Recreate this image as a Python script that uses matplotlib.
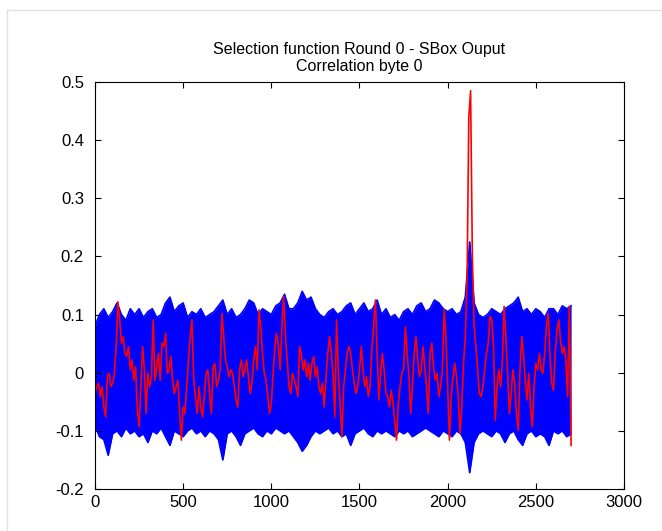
import numpy as np
import matplotlib
import matplotlib.pyplot as plt
from matplotlib.lines import Line2D
matplotlib.use('Agg')

plt.rcParams['font.family'] = ['Liberation Sans', 'DejaVu Sans']

# sample grid of the blue envelope (every 25 samples)
env_step = 25
# upper / lower edge of the blue band (all wrong-key traces)
blue_upper = [
    0.08, 0.10, 0.11, 0.095, 0.105, 0.12, 0.10, 0.09, 0.11, 0.10, 0.11, 0.095,
    0.105, 0.11, 0.095, 0.10, 0.12, 0.13, 0.105, 0.115, 0.12, 0.095, 0.105,
    0.10, 0.11, 0.095, 0.10, 0.105, 0.115, 0.125, 0.10, 0.11, 0.095, 0.10,
    0.11, 0.125, 0.12, 0.10, 0.11, 0.105, 0.10, 0.115, 0.12, 0.135, 0.11,
    0.11, 0.12, 0.14, 0.125, 0.13, 0.11, 0.10, 0.095, 0.105, 0.11, 0.10,
    0.105, 0.115, 0.12, 0.10, 0.11, 0.12, 0.105, 0.11, 0.125, 0.10, 0.11,
    0.095, 0.10, 0.09, 0.105, 0.11, 0.10, 0.115, 0.12, 0.105, 0.11, 0.125,
    0.12, 0.11, 0.105, 0.11, 0.10, 0.105, 0.13, 0.225, 0.12, 0.10, 0.095,
    0.10, 0.11, 0.105, 0.10, 0.11, 0.115, 0.12, 0.13, 0.105, 0.11, 0.10,
    0.11, 0.105, 0.095, 0.11, 0.11, 0.10, 0.115, 0.11, 0.115,
]
blue_lower = [
    -0.09, -0.11, -0.115, -0.142, -0.105, -0.10, -0.11, -0.095, -0.105, -0.10,
    -0.11, -0.105, -0.12, -0.10, -0.105, -0.095, -0.11, -0.125, -0.10, -0.105,
    -0.11, -0.10, -0.095,
    -0.105, -0.10, -0.11, -0.10, -0.105, -0.115, -0.15, -0.105, -0.10, -0.11,
    -0.125, -0.105, -0.10, -0.095, -0.105, -0.11, -0.10, -0.105, -0.095, -0.10,
    -0.105, -0.10,
    -0.11, -0.12, -0.135, -0.125, -0.11, -0.10, -0.105, -0.10, -0.095, -0.105,
    -0.10, -0.11, -0.105, -0.125, -0.105, -0.10, -0.095, -0.105, -0.11, -0.10,
    -0.105, -0.10,
    -0.105, -0.11, -0.10, -0.105, -0.10, -0.11, -0.105, -0.10, -0.095, -0.10,
    -0.105, -0.11, -0.10, -0.105, -0.11, -0.10, -0.105, -0.12, -0.172, -0.12,
    -0.105, -0.10,
    -0.105, -0.11, -0.10, -0.105, -0.12, -0.105, -0.10, -0.115, -0.125, -0.105,
    -0.10, -0.11, -0.105, -0.11, -0.125, -0.10, -0.105, -0.10, -0.11, -0.105,
]

# correct key trace (red), every 10 samples
red_step = 10
red_corr = [
    -0.036, -0.024, -0.018, -0.041, -0.024, -0.059, -0.076, -0.007, -0.001, -0.024,
    -0.018, -0.001, 0.045, 0.122, 0.091, 0.051, 0.062, 0.033, 0.028, 0.045,
    0.005, 0.022, -0.013, 0.010, -0.064, -0.093, -0.024, 0.045, 0.005, -0.070,
    -0.001, -0.024, -0.007, 0.091, -0.013, 0.010, 0.033, -0.013, 0.051, 0.045,
    0.068, -0.001, 0.005, 0.028, -0.013, -0.036, -0.024, -0.013, -0.070, -0.116,
    -0.059, -0.070, -0.024, 0.022, 0.062, 0.091,
    -0.013, -0.041, -0.070, -0.024, -0.059, -0.076, -0.041, -0.001, 0.005, -0.036,
    -0.070, 0.010, 0.016, -0.024, -0.013, 0.005, 0.102, 0.062, 0.022, 0.010,
    -0.007, 0.005, -0.001, -0.024, -0.047, -0.059, 0.005, 0.022, -0.007, 0.005,
    0.022, -0.007, -0.036, -0.018, 0.022, 0.045, 0.005, 0.108, 0.079, 0.033,
    -0.001, -0.013, -0.041, -0.070, -0.053, -0.001, 0.045, 0.068, 0.045, 0.005,
    0.079, 0.131, 0.062, 0.022, -0.024,
    -0.036, -0.001, -0.013, -0.024, -0.041, 0.045, 0.033, 0.005, 0.022, -0.007,
    0.016, -0.013, 0.016, 0.028, -0.007, 0.010, -0.024, -0.036, -0.018, -0.059,
    -0.007, 0.033, 0.062, 0.033, -0.001, -0.076, 0.091, -0.001, -0.053, -0.110,
    -0.024, 0.005, 0.033, 0.045, 0.033, 0.005, -0.018, -0.036, -0.024, 0.005,
    0.045, 0.005, -0.024, -0.007, -0.041, -0.024, 0.039, 0.079, 0.125, 0.033,
    -0.047, -0.001, 0.033, 0.005, -0.036,
    -0.041, -0.059, -0.030, -0.053, -0.082, -0.116, -0.053, -0.024, -0.001, 0.005,
    0.079, 0.033, -0.001, -0.070, -0.024, 0.033, 0.062, 0.022, -0.007, 0.005,
    0.045, 0.010, -0.024, -0.070, 0.033, 0.051, 0.010, -0.013, -0.001, -0.041,
    -0.024, 0.005, 0.108, 0.062, -0.024, -0.116, -0.041, -0.007, 0.016, -0.007,
    -0.041, -0.104, -0.059, 0.016, 0.062,
    0.16, 0.44, 0.485, 0.20, 0.08,
    0.045, 0.005, -0.036, -0.041, -0.024,
    0.005, 0.033, 0.051, 0.097, 0.091, 0.045, -0.082, -0.024, 0.005, -0.024,
    0.016, 0.114, 0.062, -0.001, -0.070, -0.036, 0.005, -0.018, -0.070, -0.099,
    0.005, 0.062, 0.033, -0.013, -0.047, -0.001, -0.059, -0.093, -0.024, 0.016,
    0.005, 0.033, 0.005, -0.001, 0.033, 0.079, 0.102, 0.033, -0.018, -0.030,
    0.033, 0.073, 0.091, 0.056, 0.033, 0.045, 0.022, -0.041,
    0.114, -0.125,
]

xticks = [0, 500, 1000, 1500, 2000, 2500, 3000]
yticks = [-0.2, -0.1, 0, 0.1, 0.2, 0.3, 0.4, 0.5]
ytick_labels = ['-0.2', '-0.1', '0', '0.1', '0.2', '0.3', '0.4', '0.5']

env_x = np.arange(len(blue_upper)) * env_step
red_x = np.arange(len(red_corr)) * red_step

fig = plt.figure(figsize=(6.62, 5.31), dpi=100)
ax = fig.add_axes([95 / 662, 1 - 489 / 531, 529 / 662, 407 / 531])

ax.fill_between(env_x, blue_lower, blue_upper, color='#0000ff', lw=0)
ax.plot(env_x, blue_upper, color='#0000ff', lw=1.2)
ax.plot(env_x, blue_lower, color='#0000ff', lw=1.2)
ax.plot(red_x, red_corr, color='#ff0000', lw=1.2)

ax.set_xlim(0, 3000)
ax.set_ylim(-0.2, 0.5)
ax.set_xticks(xticks)
ax.set_xticklabels([str(t) for t in xticks])
ax.set_yticks(yticks)
ax.set_yticklabels(ytick_labels)
ax.tick_params(axis='both', direction='in', length=4, width=0.8, labelsize=12,
               top=True, right=True)
ax.tick_params(axis='y', pad=8)
ax.tick_params(axis='x', pad=4)
for s in ax.spines.values():
    s.set_linewidth(0.8)

ax.set_title('Selection function Round 0 - SBox Ouput\nCorrelation byte 0',
             fontsize=11.5, pad=8, linespacing=1.15)

# thin grey border of the screenshot
fig.add_artist(Line2D([7 / 662, 1], [1 - 10 / 531, 1 - 10 / 531], color='#e3e3e3', lw=1))
fig.add_artist(Line2D([7 / 662, 7 / 662], [0, 1 - 10 / 531], color='#e3e3e3', lw=1))

plt.savefig('out.png', dpi=100)
